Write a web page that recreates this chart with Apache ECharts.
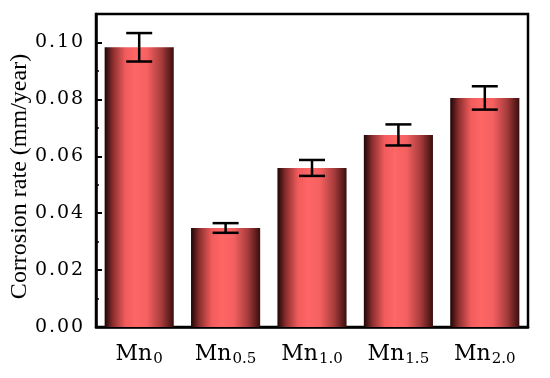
<!DOCTYPE html>
<html>
<head>
<meta charset="utf-8">
<script src="https://cdn.jsdelivr.net/npm/echarts@6/dist/echarts.min.js"></script>
<style>html,body{margin:0;padding:0;background:#fff}#c{width:550px;height:378px}</style>
</head>
<body>
<div id="c"></div>
<script>
var categories = ['0', '0.5', '1.0', '1.5', '2.0'];
var values = [0.0983, 0.0348, 0.0559, 0.0675, 0.0805];
var errors = [0.0050, 0.0017, 0.0028, 0.0037, 0.0041];
var yTicks = [0, 0.02, 0.04, 0.06, 0.08, 0.10];

var chart = echarts.init(document.getElementById('c'));
var grad = new echarts.graphic.LinearGradient(0, 0, 1, 0, [
  {offset: 0, color: '#1e0505'},
  {offset: 0.12, color: '#8a2e2e'},
  {offset: 0.3, color: '#f25c5c'},
  {offset: 0.45, color: '#ff6666'},
  {offset: 0.62, color: '#f46060'},
  {offset: 0.82, color: '#a83c3c'},
  {offset: 1, color: '#3a0d0d'}
]);
var errData = values.map(function (v, i) { return [i, v - errors[i], v + errors[i]]; });

chart.setOption({
  animation: false,
  grid: {left: 96, top: 14, right: 22, bottom: 51, show: true, borderColor: '#000', borderWidth: 2.5, backgroundColor: 'transparent', containLabel: false, outerBoundsMode: 'none'},
  xAxis: {
    type: 'category', data: categories,
    axisLine: {lineStyle: {color: '#000', width: 2.5}},
    axisTick: {show: false},
    axisLabel: {
      interval: 0, margin: 14,
      formatter: function (v) { return '{m|Mn}{s|' + v + '}'; },
      rich: {
        m: {fontFamily: 'DejaVu Serif', fontSize: 22, color: '#000'},
        s: {fontFamily: 'DejaVu Serif', fontSize: 15, color: '#000', padding: [11, 0, 0, 1]}
      }
    }
  },
  yAxis: {
    type: 'value', min: 0, max: 0.11, interval: 0.02,
    name: 'Corrosion rate (mm/year)', nameLocation: 'middle', nameGap: 64, nameRotate: 90, nameMoveOverlap: false,
    nameTextStyle: {fontFamily: 'Liberation Serif', fontSize: 24, color: '#000', padding: [0, 12, 0, 0]},
    axisLine: {show: true, lineStyle: {color: '#000', width: 2.5}},
    axisTick: {show: true, inside: true, length: 6, lineStyle: {color: '#000', width: 2}},
    minorTick: {show: true, splitNumber: 2, length: 3, lineStyle: {color: '#000', width: 1.5}},
    splitLine: {show: false},
    axisLabel: {
      showMaxLabel: false, margin: 13,
      fontFamily: 'DejaVu Serif', fontSize: 19, color: '#000',
      formatter: function (v) {
        for (var k = 0; k < yTicks.length; k++) if (Math.abs(v - yTicks[k]) < 1e-9) return yTicks[k].toFixed(2).split('').join('\u200A');
        return '';
      }
    }
  },
  series: [
    {type: 'bar', data: values, barWidth: '80%', itemStyle: {color: grad}, z: 2},
    {
      type: 'custom', z: 3, data: errData,
      renderItem: function (params, api) {
        var x = api.value(0);
        var lo = api.coord([x, api.value(1)]);
        var hi = api.coord([x, api.value(2)]);
        var hw = 13;
        var st = {stroke: '#000', lineWidth: 2.5};
        return {type: 'group', children: [
          {type: 'line', shape: {x1: hi[0], y1: hi[1], x2: lo[0], y2: lo[1]}, style: st},
          {type: 'line', shape: {x1: hi[0] - hw, y1: hi[1], x2: hi[0] + hw, y2: hi[1]}, style: st},
          {type: 'line', shape: {x1: lo[0] - hw, y1: lo[1], x2: lo[0] + hw, y2: lo[1]}, style: st}
        ]};
      }
    }
  ]
});
</script>
</body>
</html>
